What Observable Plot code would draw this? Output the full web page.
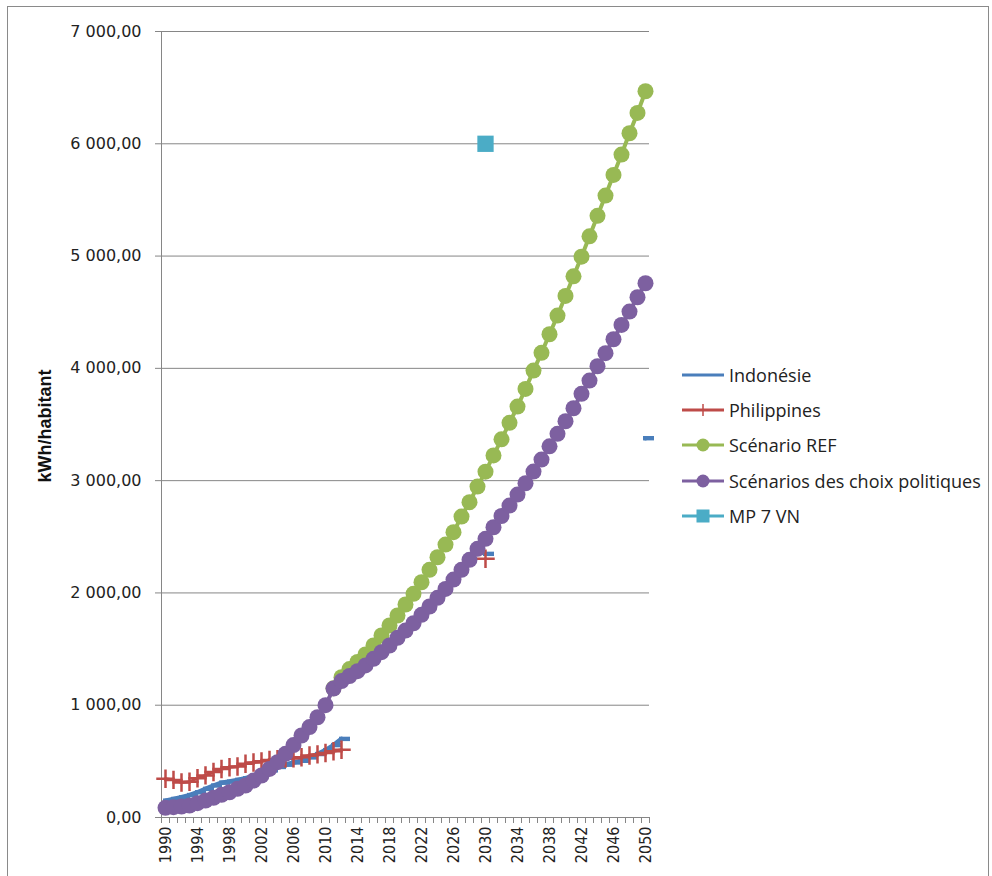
<!DOCTYPE html>
<html>
<head>
<meta charset="utf-8">
<script src="https://cdn.jsdelivr.net/npm/d3@7"></script>
<script src="https://cdn.jsdelivr.net/npm/@observablehq/plot@0.6"></script>
<style>
  html, body { margin: 0; padding: 0; background: #fff; }
  #wrap { position: relative; width: 992px; height: 876px; overflow: hidden; background: #fff; }
  #frame { position: absolute; left: 7px; top: 6px; width: 982px; height: 920px; border: 1px solid #8a8a8a; box-sizing: border-box; pointer-events: none; }
  #chart { position: absolute; left: 0; top: 0; }
  #ylabel { position: absolute; left: 45px; top: 426px; transform: translate(-50%, -50%) rotate(-90deg);
            font-family: "Liberation Sans Narrow", "Arial Narrow", "Liberation Sans", sans-serif; font-weight: bold; font-size: 18px; color: #111; white-space: nowrap; }
  #legend { position: absolute; left: 682px; top: 357px; font-family: "Open Sans", sans-serif; font-size: 18px; color: #222; }
  .row { display: flex; align-items: center; height: 35.3px; }
  .row svg { display: block; margin-right: 5px; }
</style>
</head>
<body>
<div id="wrap">
  <div id="chart"></div>
  <div id="ylabel"></div>
  <div id="legend"></div>
  <div id="frame"></div>
</div>
<script>
// ---------------- DATA ----------------
const years = [1990,1991,1992,1993,1994,1995,1996,1997,1998,1999,
               2000,2001,2002,2003,2004,2005,2006,2007,2008,2009,
               2010,2011,2012,2013,2014,2015,2016,2017,2018,2019,
               2020,2021,2022,2023,2024,2025,2026,2027,2028,2029,
               2030,2031,2032,2033,2034,2035,2036,2037,2038,2039,
               2040,2041,2042,2043,2044,2045,2046,2047,2048,2049,
               2050];

const seriesNames = ["Indonésie", "Philippines", "Scénario REF", "Scénarios des choix politiques", "MP 7 VN"];
const yLabel = "kWh/habitant";
const yTicks = [0, 1000, 2000, 3000, 4000, 5000, 6000, 7000];
const xLabelYears = [1990,1994,1998,2002,2006,2010,2014,2018,2022,2026,2030,2034,2038,2042,2046,2050];

const indonesie = [150,165,180,200,225,255,285,310,320,335,
                   350,370,395,420,450,470,490,505,535,565,
                   600,645,700,null,null,null,null,null,null,null,
                   null,null,null,null,null,null,null,null,null,null,
                   2348,null,null,null,null,null,null,null,null,null,
                   null,null,null,null,null,null,null,null,null,null,
                   3378];

const philippines = [345,335,312,318,350,375,405,432,448,455,
                     478,490,500,512,518,525,527,537,552,562,
                     575,590,603,null,null,null,null,null,null,null,
                     null,null,null,null,null,null,null,null,null,null,
                     2304,null,null,null,null,null,null,null,null,null,
                     null,null,null,null,null,null,null,null,null,null,
                     null];

const scenarioREF = [null,null,null,null,null,null,null,null,null,null,
                     null,null,null,null,null,null,null,null,null,null,
                     null,1150,1250,1322,1385,1452,1532,1621,1710,1799,
                     1897,1992,2095,2206,2318,2431,2541,2680,2808,2947,
                     3080,3225,3368,3515,3660,3817,3980,4138,4304,4470,
                     4645,4820,4995,5176,5358,5539,5723,5904,6094,6275,
                     6468];

const choixPolitiques = [86,92,98,107,128,151,175,202,225,255,
                         285,329,374,433,493,567,645,730,805,893,
                         1000,1148,1215,1260,1303,1354,1413,1472,1532,1600,
                         1665,1730,1805,1879,1956,2036,2119,2206,2295,2393,
                         2482,2585,2685,2778,2876,2977,3081,3188,3306,3417,
                         3529,3645,3773,3891,4019,4135,4259,4387,4506,4633,
                         4758];

const mp7vn = [null,null,null,null,null,null,null,null,null,null,
               null,null,null,null,null,null,null,null,null,null,
               null,null,null,null,null,null,null,null,null,null,
               null,null,null,null,null,null,null,null,null,null,
               6000,null,null,null,null,null,null,null,null,null,
               null,null,null,null,null,null,null,null,null,null,
               null];

const colors = ["#4A7EBB", "#BE4B48", "#98B954", "#7D60A0", "#4BACC6"];

// --------------- BUILD ---------------
const rowsOf = (vals) => years.map((year, i) => ({year, value: vals[i]}));
const defined = (rows) => rows.filter(d => d.value != null);

const indoRows = rowsOf(indonesie);
const philRows = rowsOf(philippines);
const refRows = rowsOf(scenarioREF);
const polRows = rowsOf(choixPolitiques);
const mpRows = rowsOf(mp7vn);

const xDomain = [years[0] - 0.5, years[years.length - 1] + 0.5];
const boundaries = [...years.map(y => y - 0.5), years[years.length - 1] + 0.5];

const loc = d3.formatLocale({decimal: ",", thousands: " ", grouping: [3], currency: ["", ""]});
const fmt = loc.format(",.2f");

const dashSymbol = {
  draw(ctx, size) {
    ctx.moveTo(-5.5, -2.2); ctx.lineTo(5.5, -2.2); ctx.lineTo(5.5, 2.2); ctx.lineTo(-5.5, 2.2); ctx.closePath();
  }
};

const gridColor = "#868686";
const textColor = "#222";

const chart = Plot.plot({
  width: 992,
  height: 876,
  marginLeft: 161,
  marginRight: 343,
  marginTop: 31,
  marginBottom: 59,
  style: {background: "transparent", overflow: "visible"},
  x: {domain: xDomain},
  y: {domain: [yTicks[0], yTicks[yTicks.length - 1]]},
  marks: [
    Plot.gridY(yTicks, {stroke: gridColor, strokeOpacity: 1}),
    Plot.ruleY([0], {stroke: gridColor}),
    Plot.ruleX([xDomain[0]], {stroke: gridColor}),
    Plot.axisY({ticks: yTicks, tickFormat: fmt, tickSize: 6, tickPadding: 14, stroke: gridColor, fill: textColor,
                fontSize: 16, fontFamily: "DejaVu Sans, sans-serif", label: null}),
    Plot.axisX({ticks: boundaries, tickSize: 6, tickFormat: () => "", stroke: gridColor, label: null}),
    Plot.axisX({ticks: xLabelYears, tickSize: 0, tickPadding: 9, tickRotate: -90, tickFormat: d => String(d),
                fill: textColor, fontSize: 16, fontFamily: "DejaVu Sans Condensed, DejaVu Sans, sans-serif", label: null}),

    // Indonésie
    Plot.line(indoRows, {x: "year", y: "value", stroke: colors[0], strokeWidth: 4.5, defined: d => d.value != null}),
    Plot.dot(defined(indoRows), {x: "year", y: "value", symbol: dashSymbol, fill: colors[0], stroke: "none", dx: 3}),

    // Philippines
    Plot.line(philRows, {x: "year", y: "value", stroke: colors[1], strokeWidth: 3, defined: d => d.value != null}),
    Plot.dot(defined(philRows), {x: "year", y: "value", symbol: "plus", r: 6, stroke: colors[1], strokeWidth: 2.5}),

    // Scénario REF
    Plot.line(refRows, {x: "year", y: "value", stroke: colors[2], strokeWidth: 4, defined: d => d.value != null}),
    Plot.dot(defined(refRows), {x: "year", y: "value", r: 8, fill: colors[2], stroke: "none"}),

    // Scénarios des choix politiques
    Plot.line(polRows, {x: "year", y: "value", stroke: colors[3], strokeWidth: 4, defined: d => d.value != null}),
    Plot.dot(defined(polRows), {x: "year", y: "value", r: 8, fill: colors[3], stroke: "none"}),

    // MP 7 VN
    Plot.dot(defined(mpRows), {x: "year", y: "value", symbol: "square", r: 9.2, fill: colors[4], stroke: "none"})
  ]
});
document.getElementById("chart").appendChild(chart);
document.getElementById("ylabel").textContent = yLabel;

// --------------- LEGEND ---------------
const markerSvg = (i) => {
  const c = colors[i];
  let m = "";
  if (i === 1) m = `<path d="M21,4 L21,16 M15,10 L27,10" stroke="${c}" stroke-width="1.5" fill="none"/>`;
  if (i === 2 || i === 3) m = `<circle cx="21" cy="10" r="6.5" fill="${c}"/>`;
  if (i === 4) m = `<rect x="14.5" y="3.5" width="13" height="13" fill="${c}"/>`;
  return `<svg width="42" height="20"><line x1="0" y1="10" x2="42" y2="10" stroke="${c}" stroke-width="3.2"/>${m}</svg>`;
};
const legend = document.getElementById("legend");
seriesNames.forEach((name, i) => {
  const row = document.createElement("div");
  row.className = "row";
  row.innerHTML = markerSvg(i);
  const span = document.createElement("span");
  span.textContent = name;
  row.appendChild(span);
  legend.appendChild(row);
});
</script>
</body>
</html>
